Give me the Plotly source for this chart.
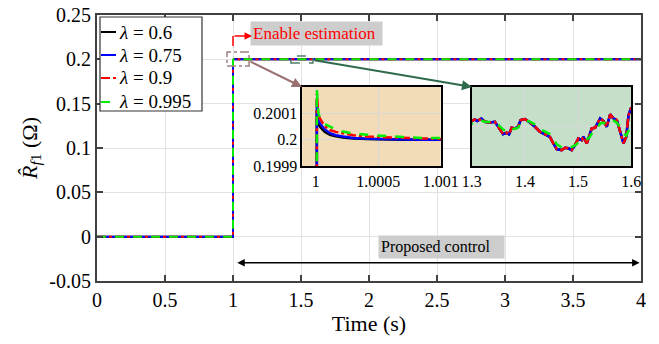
import plotly.graph_objects as go

# ---------------- data ----------------
lambdas = ["0.6", "0.75", "0.9", "0.995"]
colors = ["#000000", "#0000ff", "#ff0000", "#00ee00"]
dashes = ["solid", "solid", "dashdot", "dash"]

# before estimation is enabled
t_pre = [0.0, 1.0]
r_pre = [0.0, 0.0]

# transient right after enabling (t in s, R in ohm)
t_tr = [1.000008, 1.00002, 1.000032, 1.00007, 1.000113, 1.00016, 1.000218,
        1.0003, 1.00041, 1.00055, 1.0007, 1.00085, 1.001]
r_tr_06 = [0.200112, 0.200062, 0.200050, 0.200030, 0.200019, 0.200013, 0.200009,
           0.200005, 0.200003, 0.200001, 0.200000, 0.200000, 0.200000]
r_tr_075 = [0.200150, 0.200075, 0.200063, 0.200040, 0.200025, 0.200017, 0.200012,
            0.200007, 0.200004, 0.200002, 0.2000005, 0.200000, 0.200000]
r_tr_09 = [0.200175, 0.200095, 0.200081, 0.200052, 0.200037, 0.200030, 0.200025,
           0.200017, 0.200012, 0.200009, 0.200007, 0.200005, 0.200003]
r_tr_0995 = [0.200190, 0.200100, 0.200087, 0.200060, 0.200050, 0.200040, 0.200031,
             0.200024, 0.200019, 0.200014, 0.200010, 0.200007, 0.200004]

# steady-state wander between 1.3 s and 1.6 s (deviation from 0.2 ohm, in micro-ohm)
t_w = [1.300, 1.3057, 1.310, 1.318, 1.3245, 1.334, 1.3434, 1.3496, 1.359, 1.3655,
       1.370, 1.375, 1.381, 1.387, 1.392, 1.400, 1.4094, 1.4189, 1.428, 1.4377,
       1.447, 1.4534, 1.4598, 1.469, 1.4755, 1.4817, 1.488, 1.4943, 1.5006, 1.507,
       1.510, 1.5164, 1.5213, 1.5258, 1.532, 1.5383, 1.5415, 1.5477, 1.554, 1.5604,
       1.5666, 1.573, 1.5792, 1.5855, 1.5906, 1.595, 1.5994]
dev_w_fast = [2.8, 3.6, 2.8, 4.1, 2.4, 2.1, 2.4, -0.1, -3.9, -3.1,
              -3.9, -0.6, -0.9, -0.1, 3.3, 3.8, 2.1, -0.1, -2.6, -3.9,
              -5.2, -8.5, -11.4, -11.9, -10.7, -11.0, -11.9, -9.4, -6.0, -6.8,
              -5.2, -8.5, -3.9, -0.9, -0.6, 2.4, 4.1, 2.8, -0.1, 6.2,
              4.1, 3.3, -2.6, -8.5, -5.2, 5.8, 9.2]
dev_w_slow = [1.5, 2.5, 2.5, 3.0, 2.5, 2.5, 2.2, 1.0, -1.5, -2.5,
              -3.0, -1.5, -1.0, -0.5, 1.5, 3.0, 2.5, 1.0, -1.2, -2.5,
              -3.8, -6.0, -9.0, -10.5, -10.5, -10.0, -10.3, -9.5, -8.0, -7.5,
              -6.8, -6.5, -5.5, -3.5, -2.0, 0.0, 1.5, 2.0, 1.0, 2.5,
              3.0, 2.0, -0.5, -3.5, -4.5, -1.5, 0.5]

t_end = [4.0]
r_end = [0.2]

x_ticks = [0, 0.5, 1, 1.5, 2, 2.5, 3, 3.5, 4]
x_ticktext = ["0", "0.5", "1", "1.5", "2", "2.5", "3", "3.5", "4"]
y_ticks = [-0.05, 0, 0.05, 0.1, 0.15, 0.2, 0.25]
y_ticktext = ["-0.05", "0", "0.05", "0.1", "0.15", "0.2", "0.25"]

in1_xticks = [1.0, 1.0005, 1.001]
in1_xtext = ["1", "1.0005", "1.001"]
in1_yticks = [0.1999, 0.2, 0.2001]
in1_ytext = ["0.1999", "0.2", "0.2001"]
in2_xticks = [1.3, 1.4, 1.5, 1.6]
in2_xtext = ["1.3", "1.4", "1.5", "1.6"]
in1_xrange = [0.99989, 1.001]
in1_yrange = [0.1999, 0.2002]
in2_xrange = [1.3, 1.6]
in2_yrange = [0.19998, 0.20002]

# ---------------- build series ----------------
tr_sets = [r_tr_06, r_tr_075, r_tr_09, r_tr_0995]
w_sets = [dev_w_fast, dev_w_fast, dev_w_fast, dev_w_slow]

series = []
for tr, dw in zip(tr_sets, w_sets):
    t = t_pre + t_tr + t_w + t_end
    r = r_pre + tr + [0.2 + d * 1e-6 for d in dw] + r_end
    series.append((t, r))

SERIF = "'Liberation Serif', 'Times New Roman', Times, 'DejaVu Serif', serif"
fig = go.Figure()

for (t, r), lam, c, d in zip(series, lambdas, colors, dashes):
    fig.add_trace(go.Scatter(x=t, y=r, mode="lines", showlegend=False,
                             line=dict(color=c, width=2, dash=d),
                             xaxis="x", yaxis="y"))
for (t, r), c, d in zip(series, colors, dashes):
    fig.add_trace(go.Scatter(x=t, y=r, mode="lines", showlegend=False,
                             line=dict(color=c, width=2.5, dash=d),
                             xaxis="x2", yaxis="y2"))
for (t, r), c, d in zip(series, colors, dashes):
    fig.add_trace(go.Scatter(x=t, y=r, mode="lines", showlegend=False,
                             line=dict(color=c, width=2.5, dash=d),
                             xaxis="x3", yaxis="y3"))

AX = "#404040"
GRID = "#e3e3e3"
main_ax = dict(showline=True, linecolor=AX, linewidth=2, mirror="ticks",
               ticks="inside", ticklen=6, tickcolor=AX, tickwidth=1.5,
               showgrid=True, gridcolor=GRID, gridwidth=1, zeroline=False,
               automargin=False, ticklabeloverflow="allow",
               tickfont=dict(family=SERIF, size=20, color="black"))
in_ax = dict(showline=True, linecolor="black", linewidth=1.5, mirror=True,
             ticks="", showgrid=True, gridcolor="#d8d8d8", gridwidth=1,
             zeroline=False, automargin=False, ticklabeloverflow="allow",
             tickfont=dict(family=SERIF, size=16, color="black"))

dom_y = [0.432, 0.729]
# the page body adds an 8 px offset; margins compensate so the plot area sits at 97..641 x 15..281
fig.update_layout(
    width=659, height=344,
    margin=dict(l=89, r=26, t=7, b=71),
    paper_bgcolor="white", plot_bgcolor="white",
    font=dict(family=SERIF, color="black"),
    xaxis=dict(main_ax, domain=[0, 1], range=[0, 4], tickvals=x_ticks, ticktext=x_ticktext,
               title=dict(text="Time (s)", font=dict(family=SERIF, size=22), standoff=4)),
    yaxis=dict(main_ax, domain=[0, 1], range=[-0.05, 0.25], tickvals=y_ticks, ticktext=y_ticktext,
               title=dict(text="<i>R̂</i><sub><i>f</i>1</sub> (Ω)", font=dict(family=SERIF, size=22),
                          standoff=6)),
    xaxis2=dict(in_ax, domain=[0.377, 0.632], range=in1_xrange, anchor="y2",
                tickvals=in1_xticks, ticktext=in1_xtext),
    yaxis2=dict(in_ax, domain=dom_y, range=in1_yrange, anchor="x2",
                tickvals=in1_yticks, ticktext=in1_ytext),
    xaxis3=dict(in_ax, domain=[0.689, 0.982], range=in2_xrange, anchor="y3",
                tickvals=in2_xticks, ticktext=in2_xtext),
    yaxis3=dict(in_ax, domain=dom_y, range=in2_yrange, anchor="x3",
                tickvals=[0.2], showticklabels=False),
    showlegend=False,
)


# paper-coordinate helpers for the hand-built legend box (screen pixels of the plot area)
def px(xp):
    return (xp - 97) / 544.0


def py(yp):
    return (281 - yp) / 266.0


shapes = [
    dict(type="rect", xref="x2", yref="y2", x0=in1_xrange[0], x1=in1_xrange[1],
         y0=in1_yrange[0], y1=in1_yrange[1],
         fillcolor="#f2dcb8", line=dict(width=0), layer="below"),
    dict(type="rect", xref="x3", yref="y3", x0=in2_xrange[0], x1=in2_xrange[1],
         y0=in2_yrange[0], y1=in2_yrange[1],
         fillcolor="#c5dfc8", line=dict(width=0), layer="below"),
    # zoom markers
    dict(type="rect", xref="x", yref="y", x0=0.956, x1=1.118, y0=0.1926, y1=0.2083,
         line=dict(color="#a08080", width=1.5, dash="dashdot"), layer="above"),
    dict(type="rect", xref="x", yref="y", x0=1.426, x1=1.588, y0=0.196, y1=0.2038,
         line=dict(color="#4f7f66", width=1.5, dash="dash"), layer="above"),
    # red vertical part of the "enable" arrow
    dict(type="line", xref="x", yref="y", x0=1.0, x1=1.0, y0=0.2151, y1=0.2264,
         line=dict(color="red", width=1.5), layer="above"),
    # legend box
    dict(type="rect", xref="paper", yref="paper", x0=px(100), x1=px(202), y0=py(111), y1=py(17),
         fillcolor="white", line=dict(color="#333333", width=1.2), layer="above"),
]
ann = []
rows = [32, 55, 78, 102]
for lam, c, d, yr in zip(lambdas, colors, dashes, rows):
    shapes.append(dict(type="line", xref="paper", yref="paper", x0=px(101), x1=px(116),
                       y0=py(yr), y1=py(yr), line=dict(color=c, width=2, dash=d), layer="above"))
    ann.append(dict(x=px(117), y=py(yr), xref="paper", yref="paper", xanchor="left",
                    yanchor="middle", showarrow=False, text=f"<i>λ</i> = {lam}",
                    font=dict(family=SERIF, size=19, color="black")))
fig.update_layout(shapes=shapes)

ann += [
    dict(x=1.614, y=0.2286, xref="x", yref="y", text="Enable estimation ", showarrow=False,
         font=dict(family=SERIF, size=17, color="red"), bgcolor="#cdcdcd", borderpad=2),
    dict(x=2.533, y=-0.0113, xref="x", yref="y", text="Proposed control   ", showarrow=False,
         font=dict(family=SERIF, size=16, color="black"), bgcolor="#cdcdcd", borderpad=2),
    dict(x=1.14, y=0.2264, ax=1.0, ay=0.2264, xref="x", yref="y", axref="x", ayref="y",
         text="", showarrow=True, arrowhead=2, arrowsize=1, arrowwidth=1.5, arrowcolor="red"),
    dict(x=1.507, y=0.1689, ax=1.118, ay=0.1982, xref="x", yref="y", axref="x", ayref="y",
         text="", showarrow=True, arrowhead=2, arrowsize=1, arrowwidth=2, arrowcolor="#9a7070"),
    dict(x=2.757, y=0.1689, ax=1.588, ay=0.1993, xref="x", yref="y", axref="x", ayref="y",
         text="", showarrow=True, arrowhead=2, arrowsize=1, arrowwidth=2, arrowcolor="#2f6a4d"),
    dict(x=3.99, y=-0.0293, ax=1.02, ay=-0.0293, xref="x", yref="y", axref="x", ayref="y",
         text="", showarrow=True, arrowhead=2, startarrowhead=2, arrowside="end+start",
         arrowsize=1, arrowwidth=1.5, arrowcolor="black"),
]
fig.update_layout(annotations=ann)

fig.write_html("out.html")
